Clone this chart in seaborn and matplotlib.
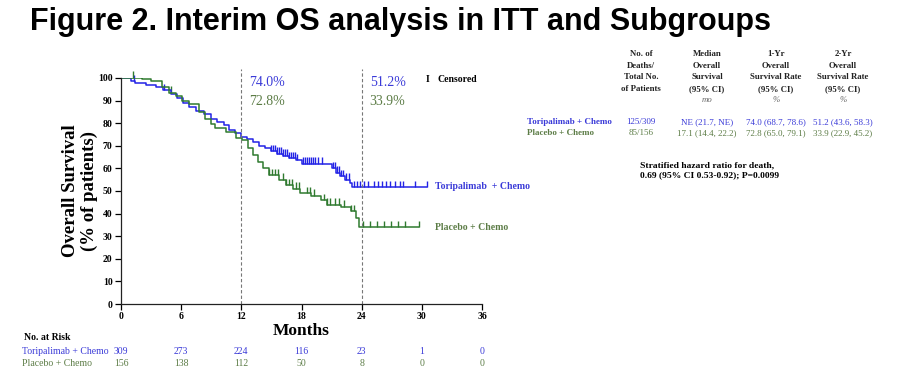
import numpy as np
import pandas as pd
import matplotlib
matplotlib.use("Agg")
import matplotlib.pyplot as plt
import matplotlib.transforms as mtransforms
import seaborn as sns

sns.set_style("white")
plt.rcParams['font.family'] = ['Liberation Serif', 'DejaVu Serif']
plt.rcParams['text.color'] = "black"
plt.rcParams['axes.labelcolor'] = "black"

BLUE = "#2323e6"
GREEN = "#2f7a2f"
BLUE_TXT = "#3a3ad8"
GREEN_TXT = "#5c7c46"

# Kaplan-Meier step points (month, % surviving)
tori_months = [0, 1.0, 1.4, 2.5, 3.5, 4.2, 5.0, 5.6, 6.2, 6.8, 7.5, 8.3, 9.0, 9.6,
               10.3, 10.8, 11.4, 12.0, 12.6, 13.2, 13.8, 14.4, 15.0, 15.6, 16.2,
               16.8, 17.5, 18.0, 21.0, 21.4, 21.8, 22.3, 22.8, 23.0, 30.5]
tori_surv = [100, 98.5, 98, 97, 96, 94.5, 93, 91, 89, 87, 85.5, 84, 82, 80.5,
             79, 77, 75.5, 74, 73, 71.5, 70, 69, 67.5, 66.5, 65.5,
             64.5, 63.5, 62, 60, 58, 56.5, 55, 53.5, 51.7, 51.7]
plac_months = [0, 2.1, 3.0, 4.1, 4.8, 5.5, 6.1, 6.8, 7.8, 8.4, 9.0, 9.4, 10.5,
               11.5, 12.1, 12.7, 13.2, 13.7, 14.2, 14.8, 15.8, 16.5, 17.2, 17.9,
               18.9, 19.9, 20.5, 21.9, 22.9, 23.4, 23.7, 29.7]
plac_surv = [100, 99.5, 98.5, 96, 93.5, 92, 90, 88.5, 85, 82, 79.5, 78, 76,
             73.5, 72.5, 69, 66, 63, 60, 57, 55, 52.5, 51, 49,
             48, 46, 44, 43, 41, 38, 34, 34]

# censoring times
tori_cens = [1.3, 4.3, 15.0, 15.2, 15.4, 15.6, 15.8, 16.0, 16.2, 16.4, 16.6, 16.8,
             17.0, 17.2, 17.4, 17.6, 18.1, 18.3, 18.5, 18.7, 18.9, 19.1, 19.3, 19.6,
             20.0, 21.1, 21.3, 21.5, 21.7, 21.9, 22.1, 22.4, 22.7, 23.2, 23.5, 23.8,
             24.2, 24.6, 25.2, 25.6, 26.0, 26.4, 26.8, 27.3, 27.8, 28.1, 29.3, 30.5]
plac_cens = [1.2, 5.0, 14.8, 15.1, 15.4, 15.7, 16.2, 16.5, 16.8, 17.1, 17.5, 17.8,
             18.5, 18.8, 19.2, 20.2, 20.5, 20.8, 21.3, 21.7, 22.2, 22.9, 23.2,
             24.1, 24.8, 25.5, 26.2, 26.9, 27.6, 28.3, 29.7]

# numbers at risk
risk_months = [0, 6, 12, 18, 24, 30, 36]
tori_risk = [309, 273, 224, 116, 23, 1, 0]
plac_risk = [156, 138, 112, 50, 8, 0, 0]

arms = ["Toripalimab + Chemo", "Placebo + Chemo"]


def surv_at(months, surv, t):
    idx = np.searchsorted(months, t, side="right") - 1
    return np.asarray(surv)[idx]


curves = pd.concat([
    pd.DataFrame({"month": tori_months, "surv": tori_surv, "arm": arms[0]}),
    pd.DataFrame({"month": plac_months, "surv": plac_surv, "arm": arms[1]}),
])
cens = pd.concat([
    pd.DataFrame({"month": tori_cens,
                  "surv": surv_at(tori_months, tori_surv, tori_cens), "arm": arms[0]}),
    pd.DataFrame({"month": plac_cens,
                  "surv": surv_at(plac_months, plac_surv, plac_cens), "arm": arms[1]}),
])
palette = {arms[0]: BLUE, arms[1]: GREEN}

fig = plt.figure(figsize=(9.19, 3.82), dpi=100)
ax = fig.add_axes([121 / 919, 1 - 304 / 382, 361 / 919, 226 / 382])

sns.lineplot(data=curves, x="month", y="surv", hue="arm", palette=palette,
             drawstyle="steps-post", estimator=None, legend=False, lw=1.1, ax=ax)
# censor ticks stand up from the curve (matplotlib TICKUP marker)
sns.scatterplot(data=cens, x="month", y="surv", hue="arm", palette=palette,
                marker=2, s=22, linewidth=1.0, legend=False, ax=ax, clip_on=False)

ax.set_xlim(0, 36)
ax.set_ylim(0, 100)
ax.set_xticks(risk_months)
ax.set_yticks(range(0, 101, 10))
for s in ["top", "right"]:
    ax.spines[s].set_visible(False)
for s in ["left", "bottom"]:
    ax.spines[s].set_linewidth(0.9)
    ax.spines[s].set_color("#222222")
ax.tick_params(axis="both", direction="out", length=4, width=0.9, labelsize=7,
               colors="black", pad=2, left=True, bottom=True)
for lab in ax.get_xticklabels() + ax.get_yticklabels():
    lab.set_fontweight("bold")
ax.set_xlabel("Months", fontsize=12.5, fontweight="bold", labelpad=1)
ax.set_ylabel("Overall Survival\n(% of patients)", fontsize=13.5, fontweight="bold",
              labelpad=0, linespacing=1.1)

# landmark lines
for m in [12, 24]:
    ax.plot([m, m], [0, 104], ls=(0, (3, 2)), color="#777777", lw=0.8, clip_on=False)
ax.text(12.8, 98, "74.0%", color=BLUE_TXT, fontsize=10, va="center")
ax.text(12.8, 89.5, "72.8%", color=GREEN_TXT, fontsize=10, va="center")
ax.text(24.8, 98, "51.2%", color=BLUE_TXT, fontsize=10, va="center")
ax.text(24.8, 89.5, "33.9%", color=GREEN_TXT, fontsize=10, va="center")
ax.text(30.6, 99.5, "I", fontsize=7, fontweight="bold", va="center", ha="center")
ax.text(31.6, 99.5, "Censored", fontsize=7, fontweight="bold", va="center")

ax.text(31.3, 52, "Toripalimab  + Chemo", color=BLUE_TXT, fontsize=7,
        fontweight="bold", va="center")
ax.text(31.3, 34, "Placebo + Chemo", color=GREEN_TXT, fontsize=7,
        fontweight="bold", va="center")

# number at risk table
trans = mtransforms.blended_transform_factory(ax.transData, fig.transFigure)
fig.text(24 / 919, 1 - 337 / 382, "No. at Risk", fontsize=7, fontweight="bold",
         va="center")
fig.text(22 / 919, 1 - 351 / 382, arms[0], fontsize=7, color=BLUE_TXT, va="center")
fig.text(22 / 919, 1 - 363 / 382, arms[1], fontsize=7, color=GREEN_TXT, va="center")
for m, a, b in zip(risk_months, tori_risk, plac_risk):
    ax.text(m, 1 - 351 / 382, str(a), transform=trans, fontsize=7, color=BLUE_TXT,
            ha="center", va="center")
    ax.text(m, 1 - 363 / 382, str(b), transform=trans, fontsize=7, color=GREEN_TXT,
            ha="center", va="center")

# title
fig.text(30 / 919, 1 - 22 / 382, "Figure 2. Interim OS analysis in ITT and Subgroups",
         fontsize=22, fontweight="bold", va="center", color="black",
         family=["Liberation Sans Narrow", "Liberation Sans", "DejaVu Sans"])

# summary table on the right
col_x = [641, 707, 776, 843]
headers = [["No. of", "Deaths/", "Total No.", "of Patients"],
           ["Median", "Overall", "Survival", "(95% CI)"],
           ["1-Yr", "Overall", "Survival Rate", "(95% CI)"],
           ["2-Yr", "Overall", "Survival Rate", "(95% CI)"]]
units = ["", "mo", "%", "%"]
tori_row = ["125/309", "NE (21.7, NE)", "74.0 (68.7, 78.6)", "51.2 (43.6, 58.3)"]
plac_row = ["85/156", "17.1 (14.4, 22.2)", "72.8 (65.0, 79.1)", "33.9 (22.9, 45.2)"]
for cx, head, unit in zip(col_x, headers, units):
    for i, line in enumerate(head):
        fig.text(cx / 919, 1 - (54 + 11.6 * i) / 382, line, fontsize=6.3,
                 fontweight="bold", ha="center", va="center", color="#222222")
    if unit:
        fig.text(cx / 919, 1 - 100 / 382, unit, fontsize=6.3, style="italic",
                 ha="center", va="center", color="#666666")
fig.text(527 / 919, 1 - 122 / 382, arms[0], fontsize=6.5, fontweight="bold",
         color=BLUE_TXT, va="center")
fig.text(527 / 919, 1 - 133 / 382, arms[1], fontsize=6.5, fontweight="bold",
         color=GREEN_TXT, va="center")
for cx, a, b in zip(col_x, tori_row, plac_row):
    fig.text(cx / 919, 1 - 122 / 382, a, fontsize=6.5, color=BLUE_TXT,
             ha="center", va="center")
    fig.text(cx / 919, 1 - 133 / 382, b, fontsize=6.5, color=GREEN_TXT,
             ha="center", va="center")
fig.text(640 / 919, 1 - 170 / 382, "Stratified hazard ratio for death,\n"
         "0.69 (95% CI 0.53-0.92); P=0.0099", fontsize=6.8, fontweight="bold",
         va="center", linespacing=1.35)

fig.savefig("out.png", dpi=100)
